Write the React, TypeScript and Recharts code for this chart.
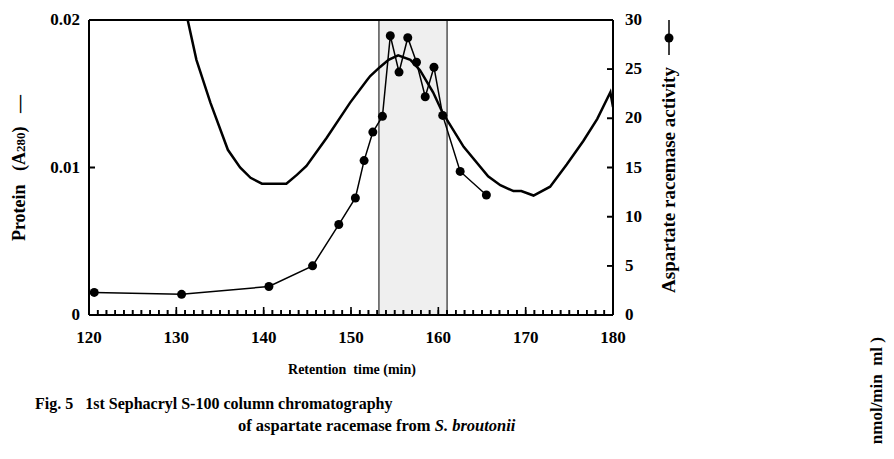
import React from "react"
import {
  ComposedChart,
  Line,
  XAxis,
  YAxis,
  ReferenceArea,
  ReferenceLine,
} from "recharts"

const FONT = "'Liberation Serif', 'Times New Roman', serif"

// retention time (min) and A280 of the protein trace
const proteinTime = [
  130.8, 131.3, 132.3, 133.9, 135.9, 137.3, 138.5, 139.8, 142.6, 143.8, 144.9, 147.2,
  149.9, 151.8, 152.2, 153.3, 154.3, 155.4, 156.8, 157.9, 159.4, 160.5, 162.9, 165.7,
  167.1, 168.6, 169.5, 170.9, 172.8, 174.7, 176.6, 178.2, 179.7, 180.0,
]
const proteinA280 = [
  0.0212, 0.02, 0.0173, 0.0144, 0.0112, 0.01, 0.0093, 0.0089, 0.0089, 0.0095, 0.0101, 0.012,
  0.0144, 0.0159, 0.0162, 0.0168, 0.0173, 0.0176, 0.0173, 0.0166, 0.0151, 0.0137, 0.0114, 0.0094,
  0.0088, 0.0084, 0.0084, 0.0081, 0.0087, 0.0102, 0.0118, 0.0133, 0.0151, 0.0141,
]

// fractions assayed for aspartate racemase activity
const activityTime = [
  120.6, 130.6, 140.6, 145.6, 148.6, 150.5, 151.5, 152.5, 153.6, 154.5, 155.5, 156.5,
  157.5, 158.5, 159.5, 160.5, 162.5, 165.5,
]
const activityValue = [
  2.3, 2.1, 2.9, 5.0, 9.2, 11.9, 15.7, 18.6, 20.2, 28.4, 24.7, 28.2,
  25.7, 22.2, 25.2, 20.3, 14.6, 12.2,
]

const xLabels = [120, 130, 140, 150, 160, 170, 180]
const xMinorTicks = Array.from({ length: 61 }, (_, i) => 120 + i)
const leftTicks = [0, 0.01, 0.02]
const rightTicks = [0, 5, 10, 15, 20, 25, 30]
const pooled = [153.2, 161.0]

const proteinData = proteinTime.map((t, i) => ({ t, a280: proteinA280[i] }))
const activityData = activityTime.map((t, i) => ({ t, act: activityValue[i] }))

const labelStyle = { fontFamily: FONT, fontWeight: 700, fill: "#000" }
const tickLineStyle = { stroke: "#000", strokeWidth: 1.6 }

// tick marks point into the frame (tickSize < 0); labels drawn here
function XTick({ x, y, payload }: any) {
  const v = payload.value
  const major = xLabels.includes(v)
  return (
    <g>
      <line x1={x} x2={x} y1={y + 5} y2={y - (major ? 3 : 0)} stroke="#000" strokeWidth={1.6} />
      {major && (
        <text x={x} y={y + 33} textAnchor="middle" fontSize={17} style={labelStyle}>
          {v}
        </text>
      )}
    </g>
  )
}

function LeftTick({ x, y, payload }: any) {
  const v = payload.value
  return (
    <g>
      <line x1={x - 6} x2={x} y1={y} y2={y} stroke="#000" strokeWidth={1.6} />
      <text x={x - 15} y={y + 5} textAnchor="end" fontSize={17} style={labelStyle}>
        {v === 0 ? "0" : v.toFixed(2)}
      </text>
    </g>
  )
}

function RightTick({ x, y, payload }: any) {
  return (
    <g>
      <line x1={x} x2={x + 6} y1={y} y2={y} stroke="#000" strokeWidth={1.6} />
      <text x={x + 18} y={y + 5} textAnchor="start" fontSize={17} style={labelStyle}>
        {payload.value}
      </text>
    </g>
  )
}

export default function App() {
  return (
    <div style={{ position: "absolute", left: 0, top: 0, width: 894, height: 459, background: "#fff" }}>
      <ComposedChart width={894} height={459} margin={{ top: 20, right: 241, left: 29, bottom: 114 }}>
        <ReferenceArea
          yAxisId="l"
          x1={pooled[0]}
          x2={pooled[1]}
          y1={0}
          y2={0.02}
          fill="#efefef"
          fillOpacity={1}
          stroke="#000"
          strokeWidth={1}
        />
        <XAxis
          dataKey="t"
          type="number"
          domain={[120, 180]}
          ticks={xMinorTicks}
          interval={0}
          allowDataOverflow
          height={30}
          tickSize={-5}
          tickMargin={0}
          tickLine={tickLineStyle}
          axisLine={{ stroke: "#000", strokeWidth: 2 }}
          tick={<XTick />}
        />
        <YAxis
          yAxisId="l"
          domain={[0, 0.02]}
          ticks={leftTicks}
          allowDataOverflow
          width={60}
          tickSize={-6}
          tickMargin={0}
          tickLine={tickLineStyle}
          axisLine={{ stroke: "#000", strokeWidth: 2 }}
          tick={<LeftTick />}
        />
        <YAxis
          yAxisId="r"
          orientation="right"
          domain={[0, 30]}
          ticks={rightTicks}
          allowDataOverflow
          width={40}
          tickSize={-6}
          tickMargin={0}
          tickLine={tickLineStyle}
          axisLine={{ stroke: "#000", strokeWidth: 2 }}
          tick={<RightTick />}
        />
        <ReferenceLine yAxisId="l" y={0.02} stroke="#000" strokeWidth={2} />
        <Line
          yAxisId="l"
          data={proteinData}
          dataKey="a280"
          type="linear"
          stroke="#000"
          strokeWidth={2.5}
          dot={false}
          isAnimationActive={false}
        />
        <Line
          yAxisId="r"
          data={activityData}
          dataKey="act"
          type="linear"
          stroke="#000"
          strokeWidth={1.5}
          dot={{ r: 4.5, fill: "#000", stroke: "#000", strokeWidth: 0 }}
          isAnimationActive={false}
        />
      </ComposedChart>

      <svg
        width={894}
        height={459}
        style={{ position: "absolute", left: 0, top: 0, pointerEvents: "none" }}
      >
        {/* left axis title */}
        <g transform="rotate(-90 25 168)">
          <text x={25} y={168} textAnchor="middle" fontSize={18} style={{ ...labelStyle, whiteSpace: "pre" }}>
            Protein{"   "}(A<tspan fontSize={13}>280</tspan>){"   "}—
          </text>
        </g>

        {/* right axis title + legend symbol */}
        <line x1={669} x2={669} y1={20} y2={55} stroke="#000" strokeWidth={1.5} />
        <circle cx={669} cy={38} r={4.5} fill="#000" />
        <text
          x={675}
          y={180}
          transform="rotate(-90 675 180)"
          textAnchor="middle"
          fontSize={19}
          style={labelStyle}
        >
          Aspartate racemase activity
        </text>

        <text
          x={882}
          y={337}
          transform="rotate(-90 882 337)"
          textAnchor="end"
          fontSize={17}
          style={{ ...labelStyle, whiteSpace: "pre" }}
        >
          nmol/min  ml )
        </text>

        {/* x axis title */}
        <text x={352} y={374} textAnchor="middle" fontSize={14} style={{ ...labelStyle, whiteSpace: "pre" }}>
          Retention  time (min)
        </text>

        {/* caption */}
        <text x={35} y={409} fontSize={16} style={{ ...labelStyle, whiteSpace: "pre" }}>
          Fig. 5{"   "}1st Sephacryl S-100 column chromatography
        </text>
        <text x={238} y={431} fontSize={16.5} style={{ ...labelStyle, whiteSpace: "pre" }}>
          of aspartate racemase from <tspan fontStyle="italic">S. broutonii</tspan>
        </text>
      </svg>
    </div>
  )
}
